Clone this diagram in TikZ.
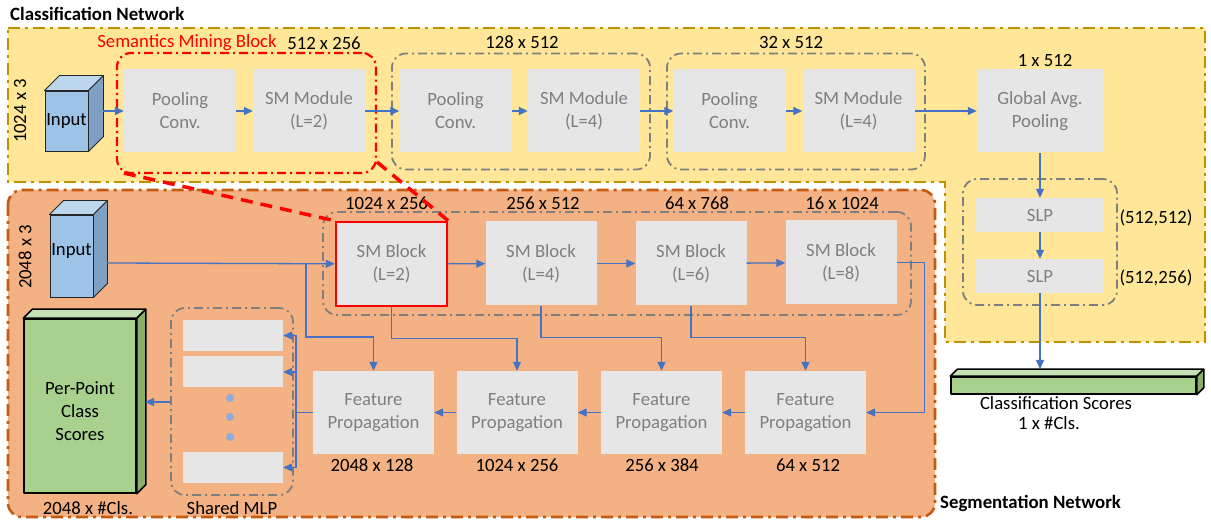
\documentclass[tikz,border=0pt]{standalone}
\usepackage{fontspec}
\setmainfont{Carlito}
\usetikzlibrary{arrows.meta,calc}

\definecolor{yellowfill}{HTML}{FFE699}
\definecolor{yellowedge}{HTML}{BF9000}
\definecolor{orangefill}{HTML}{F4B183}
\definecolor{orangeedge}{HTML}{C55A11}
\definecolor{boxgray}{HTML}{E7E6E6}
\definecolor{txtgray}{HTML}{7F7F7F}
\definecolor{grpgray}{HTML}{7F7F7F}
\definecolor{arrblue}{HTML}{4472C4}
\definecolor{cubefront}{HTML}{9DC3E6}
\definecolor{cubetop}{HTML}{BDD7EE}
\definecolor{cubeside}{HTML}{7DA0C4}
\definecolor{greenfront}{HTML}{A9D18E}
\definecolor{greentop}{HTML}{C5E0B4}
\definecolor{greenside}{HTML}{88B06A}
\definecolor{dotblue}{HTML}{8FAADC}

\tikzset{
  every node/.style={font=\fontsize{18.7}{23}\selectfont, inner sep=0pt},
  box/.style={fill=boxgray, text=txtgray, align=center,
              minimum width=112pt, minimum height=83pt},
  lbl/.style={text=black, align=center},
  grp/.style={draw=grpgray, line width=1.8pt,
              dash pattern=on 9pt off 4pt on 2pt off 4pt, rounded corners=14pt},
  redgrp/.style={draw=red, line width=2.2pt,
              dash pattern=on 9pt off 4pt on 2pt off 4pt, rounded corners=14pt},
  arr/.style={draw=arrblue, line width=1.3pt, -{Triangle[length=9pt,width=8pt]}},
  wire/.style={draw=arrblue, line width=1.3pt},
  cubeline/.style={draw=black!85, line width=0.9pt, line join=round},
  greenline/.style={draw=black, line width=1.5pt, line join=round},
  title/.style={font=\fontsize{18.8}{22}\selectfont\bfseries, anchor=west}
}

% top and side faces of a box whose front face is node #1
\newcommand\cubefaces[5]{% node, depth, top colour, side colour, edge style
  \draw[#5, fill=#3] (#1.north west) -- ++(#2,-#2)
     -- ($(#1.north east)+(#2,-#2)$) -- (#1.north east) -- cycle;
  \draw[#5, fill=#4] (#1.north east) -- ($(#1.north east)+(#2,-#2)$)
     -- ($(#1.south east)+(#2,-#2)$) -- (#1.south east) -- cycle;}

\begin{document}
\begin{tikzpicture}[x=1pt,y=-1pt]
\useasboundingbox (0,0) rectangle (1211,521);

% ---------- network regions ----------
\draw[fill=yellowfill, draw=yellowedge, line width=2.6pt,
      dash pattern=on 12pt off 5pt on 3pt off 5pt]
  (8,28) -- (1205,28) -- (1205,342) -- (945,342) -- (945,182) -- (8,182) -- cycle;
\draw[fill=orangefill, draw=orangeedge, line width=2.6pt,
      dash pattern=on 12pt off 5pt on 3pt off 5pt, rounded corners=14pt]
  (8,190) rectangle (935,517);

\node[title] (clsnet) at (10,14) {Classification Network};
\node[title] (segnet) at (940,503) {Segmentation Network};

% ---------- classification branch ----------
\node[draw=black!85, line width=0.9pt, fill=cubefront, minimum width=43pt,
      minimum height=60pt] (in1) at (66.5,121) {Input};
\cubefaces{in1}{15}{cubetop}{cubeside}{cubeline}
\coordinate (in1out) at (103,111);
\node[lbl, rotate=90] (in1dim) at (20,111) {1024 x 3};

\node[redgrp, minimum width=259pt, minimum height=120pt] (blk1) at (246.5,113) {};
\node[grp, minimum width=258pt, minimum height=116pt] (blk2) at (521,111.5) {};
\node[grp, minimum width=258pt, minimum height=116pt] (blk3) at (796,111.5) {};

\node[box] (p1) at (180,111) {Pooling\\Conv.};
\node[box] (s1) at (309,111) {SM Module\\(L=2)};
\node[box] (p2) at (455.5,111) {Pooling\\Conv.};
\node[box] (s2) at (584,111) {SM Module\\(L=4)};
\node[box] (p3) at (729.5,111) {Pooling\\Conv.};
\node[box] (s3) at (858.5,111) {SM Module\\(L=4)};
\node[box, minimum width=126pt] (gap) at (1040,111) {Global Avg.\\Pooling};

\node[lbl, text=red] (smbname) at (187,43) {Semantics Mining Block};
\node[lbl] (d1) at (324,43) {512 x 256};
\node[lbl] (d2) at (522,42) {128 x 512};
\node[lbl] (d3) at (791,42) {32 x 512};
\node[lbl] (d4) at (1045,60) {1 x 512};

\draw[arr] (in1out) -- (p1);
\draw[arr] (p1) -- (s1);
\draw[arr] (s1) -- (p2);
\draw[arr] (p2) -- (s2);
\draw[arr] (s2) -- (p3);
\draw[arr] (p3) -- (s3);
\draw[arr] (s3) -- (gap);

\node[grp, minimum width=154pt, minimum height=126pt] (slpblk) at (1040,242) {};
\node[box, minimum width=128pt, minimum height=34pt] (slp1) at (1040,215) {SLP};
\node[box, minimum width=128pt, minimum height=34pt] (slp2) at (1040,276) {SLP};
\node[lbl] (slp1dim) at (1156,218) {(512,512)};
\node[lbl] (slp2dim) at (1156,278) {(512,256)};
\draw[arr] (gap) -- (slp1);
\draw[arr] (slp1) -- (slp2);

\node[greenline, fill=greenfront, minimum width=245pt, minimum height=17pt]
  (cls) at (1073.5,385.5) {};
\cubefaces{cls}{7}{greentop}{greenside}{greenline}
\coordinate (clsin) at (1040,369);
\draw[arr] (slp2) -- (clsin);
\node[lbl] (clsname) at (1056,403) {Classification Scores};
\node[lbl] (clsdim) at (1049,423) {1 x \#Cls.};

% ---------- segmentation branch ----------
\node[draw=black!85, line width=0.9pt, fill=cubefront, minimum width=43pt,
      minimum height=82pt] (in2) at (71.5,256) {};
\cubefaces{in2}{14}{cubetop}{cubeside}{cubeline}
\node[lbl] (in2lbl) at (71.5,251) {Input};
\coordinate (in2out) at (107,263);
\node[lbl, rotate=90] (in2dim) at (25,257) {2048 x 3};

\node[grp, minimum width=588pt, minimum height=103pt] (smgrp) at (617,263.5) {};
\node[box, minimum width=111pt, minimum height=84pt, draw=red, line width=2.5pt]
  (sm1) at (391.5,264) {SM Block\\(L=2)};
\node[box, minimum width=111pt, minimum height=84pt] (sm2) at (541,263.5) {SM Block\\(L=4)};
\node[box, minimum width=111pt, minimum height=84pt] (sm3) at (691,263.5) {SM Block\\(L=6)};
\node[box, minimum width=111pt, minimum height=84pt] (sm4) at (841,262.5) {SM Block\\(L=8)};
\node[lbl] (sd1) at (386.5,203) {1024 x 256};
\node[lbl] (sd2) at (543,203) {256 x 512};
\node[lbl] (sd3) at (697,203) {64 x 768};
\node[lbl] (sd4) at (842,203) {16 x 1024};

% semantics mining block shown in detail
\draw[red, line width=3.5pt, dash pattern=on 12pt off 8pt]
  ($(blk1.south west)+(8,-1)$) -- (sm1.north west);
\draw[red, line width=3.5pt, dash pattern=on 12pt off 8pt]
  ($(blk1.south east)+(0,-12)$) -- (sm1.north east);

\node[box, minimum width=121pt] (fp1) at (373.5,412.5) {Feature\\Propagation};
\node[box, minimum width=121pt] (fp2) at (517,412.5) {Feature\\Propagation};
\node[box, minimum width=121pt] (fp3) at (661.5,412.5) {Feature\\Propagation};
\node[box, minimum width=121pt] (fp4) at (805.5,412.5) {Feature\\Propagation};
\node[lbl] (fd1) at (372,465) {2048 x 128};
\node[lbl] (fd2) at (517,465) {1024 x 256};
\node[lbl] (fd3) at (662,465) {256 x 384};
\node[lbl] (fd4) at (808,465) {64 x 512};

\coordinate (jn) at (306,263);
\draw[arr] (in2out) -- (sm1);
\draw[arr] (jn) -- ++(0,74) -| (fp1.north);
\draw[arr] (sm1) -- (sm2);
\draw[arr] (sm2) -- (sm3);
\draw[arr] (sm3) -- (sm4);
\draw[arr] (sm1.south) -- ++(0,31) -| (fp2.north);
\draw[arr] (sm2.south) -- ++(0,31.5) -| (fp3.north);
\draw[arr] (sm3.south) -- ++(0,31.5) -| (fp4.north);
\draw[arr] (sm4.east) -- ++(28,0) |- (fp4.east);
\draw[arr] (fp4) -- (fp3);
\draw[arr] (fp3) -- (fp2);
\draw[arr] (fp2) -- (fp1);

% shared MLP
\node[grp, minimum width=122pt, minimum height=187pt] (mlp) at (232,401.5) {};
\node[box, minimum width=100pt, minimum height=31pt] (m1) at (233,335.5) {};
\node[box, minimum width=100pt, minimum height=31pt] (m2) at (233,372) {};
\node[box, minimum width=100pt, minimum height=31pt] (m3) at (233,467.5) {};
\foreach \yy [count=\k] in {398,417,437}
  \fill[dotblue] (230,\yy) circle (4pt) coordinate (dot\k);
\node[lbl] (mlpname) at (232,508) {Shared MLP};

\coordinate (bus) at (296,412.5);
\draw[wire] (fp1.west) -- (bus);
\draw[wire] (bus |- m1) -- (bus |- m3);
\draw[arr] (bus |- m1) -- (m1);
\draw[arr] (bus |- m2) -- (m2);
\draw[arr] (bus |- m3) -- (m3);

\node[greenline, fill=greenfront, minimum width=112pt, minimum height=174pt]
  (pp) at (80,406) {};
\cubefaces{pp}{9}{greentop}{greenside}{greenline}
\node[lbl] (ppname) at (80,411.5) {Per-Point\\Class\\Scores};
\node[lbl] (ppdim) at (88,508) {2048 x \#Cls.};
\coordinate (ppin) at (145,402);
\draw[arr] (mlp.west |- ppin) -- (ppin);

\end{tikzpicture}
\end{document}
